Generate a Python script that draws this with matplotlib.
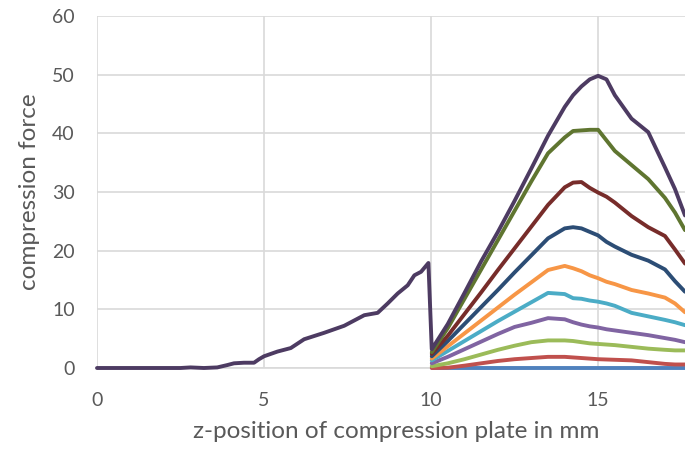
import numpy as np
import matplotlib
matplotlib.use('Agg')
import matplotlib.pyplot as plt

plt.rcParams['font.family'] = ['Lato', 'DejaVu Sans']

# shared approach (all runs identical before the plate reaches 10 mm)
approach_x = [0, 2.5, 2.8, 3.2, 3.6, 3.9, 4.1, 4.4, 4.7, 4.85, 5.0, 5.4, 5.8, 6.2,
              6.8, 7.4, 8.0, 8.4, 8.7, 9.0, 9.3, 9.5, 9.7, 9.92]
approach_y = [0, 0, 0.1, 0.0, 0.1, 0.5, 0.8, 0.9, 0.9, 1.5, 2.0, 2.8, 3.4, 4.9,
              6.0, 7.2, 9.0, 9.4, 11.0, 12.7, 14.1, 15.8, 16.4, 17.9]

# second compression, after the drop at 10 mm
z_after = [10.02, 10.5, 11, 11.5, 12, 12.5, 13, 13.5, 14, 14.25, 14.5, 14.75,
           15, 15.25, 15.5, 16, 16.5, 17, 17.3, 17.6]

run_blue      = [0] * 20
run_red       = [0.0, 0.05, 0.4, 0.8, 1.2, 1.5, 1.7, 1.9, 1.9, 1.8, 1.7, 1.6,
                 1.5, 1.45, 1.4, 1.3, 1.0, 0.7, 0.6, 0.6]
run_green     = [0.3, 0.8, 1.5, 2.3, 3.1, 3.8, 4.4, 4.7, 4.7, 4.6, 4.4, 4.2,
                 4.1, 4.0, 3.9, 3.6, 3.3, 3.1, 3.0, 3.0]
run_purple    = [0.8, 1.9, 3.2, 4.5, 5.8, 7.0, 7.7, 8.5, 8.3, 7.8, 7.4, 7.1,
                 6.9, 6.6, 6.4, 6.0, 5.6, 5.1, 4.8, 4.4]
run_aqua      = [1.3, 2.9, 4.6, 6.3, 8.0, 9.6, 11.2, 12.8, 12.6, 11.9, 11.8, 11.5,
                 11.3, 11.0, 10.6, 9.4, 8.8, 8.2, 7.8, 7.3]
run_orange    = [1.6, 3.7, 5.9, 8.1, 10.3, 12.5, 14.6, 16.7, 17.4, 17.0, 16.5, 15.8,
                 15.3, 14.7, 14.3, 13.3, 12.7, 12.0, 11.0, 9.5]
run_darkblue  = [2.0, 4.6, 7.5, 10.4, 13.3, 16.3, 19.2, 22.1, 23.8, 24.0, 23.8, 23.2,
                 22.6, 21.5, 20.7, 19.3, 18.3, 16.8, 14.8, 13.0]
run_darkred   = [2.4, 5.5, 9.2, 12.9, 16.7, 20.4, 24.1, 27.8, 30.8, 31.6, 31.7, 30.7,
                 29.9, 29.2, 28.2, 25.9, 24.0, 22.5, 20.2, 17.8]
run_darkgreen = [2.7, 6.8, 11.8, 16.8, 21.8, 26.8, 31.8, 36.6, 39.3, 40.4, 40.5, 40.6,
                 40.6, 38.8, 37.0, 34.6, 32.2, 29.0, 26.5, 23.5]
run_darkpurp  = [3.2, 7.5, 12.8, 18.2, 23.2, 28.5, 34.0, 39.6, 44.5, 46.5, 48.0, 49.2,
                 49.8, 49.2, 46.5, 42.5, 40.2, 34.2, 30.5, 26.0]

runs = [run_blue, run_red, run_green, run_purple, run_aqua, run_orange,
        run_darkblue, run_darkred, run_darkgreen, run_darkpurp]
colors = ['#4F81BD', '#C0504D', '#9BBB59', '#8064A2', '#4BACC6', '#F79646',
          '#2C4D75', '#772C2A', '#5F7530', '#4D3B62']

fig = plt.figure(figsize=(6.85, 4.54), dpi=100)
ax = fig.add_axes([97/685, 86/454, 588/685, 352/454])

for i, (y, c) in enumerate(zip(runs, colors)):
    if i == len(runs) - 1:
        x_all = approach_x + z_after
        y_all = approach_y + y
    else:
        x_all, y_all = z_after, y
    ax.plot(x_all, y_all, color=c, lw=2.8, solid_capstyle='round',
            solid_joinstyle='round', clip_on=False, zorder=3 + i)

ax.set_xlim(0, 17.6)
ax.set_ylim(0, 60)
ax.set_xticks([0, 5, 10, 15])
ax.set_yticks(np.arange(0, 61, 10))
ax.grid(True, color='#D9D9D9', lw=1.2)
ax.set_axisbelow(True)
for s in ['top', 'right', 'left']:
    ax.spines[s].set_visible(False)
ax.spines['bottom'].set_color('#D9D9D9')
ax.spines['bottom'].set_linewidth(1.2)
ax.tick_params(length=0, labelsize=14, labelcolor='#595959')
ax.tick_params(axis='y', pad=16)
ax.tick_params(axis='x', pad=17)

ax.set_xlabel('z-position of compression plate in mm', fontsize=17.5, color='#595959')
ax.set_ylabel('compression force', fontsize=17.5, color='#595959')
ax.xaxis.set_label_coords(299/588, -53/352)
ax.yaxis.set_label_coords(-57/588, 0.5)

fig.savefig('out.png', dpi=100)
